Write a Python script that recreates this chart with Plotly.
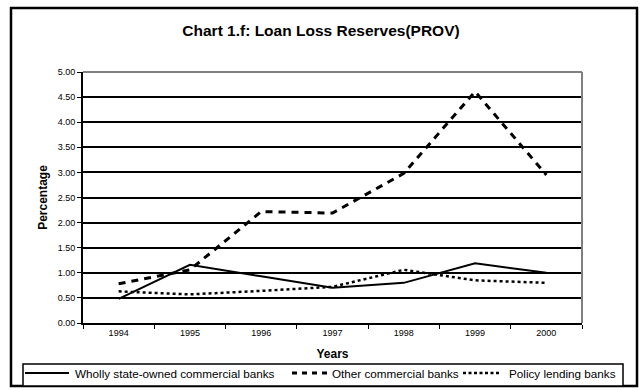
import plotly.graph_objects as go

years = ["1994", "1995", "1996", "1997", "1998", "1999", "2000"]
wholly_state = [0.48, 1.16, 0.93, 0.70, 0.80, 1.19, 1.00]
other_commercial = [0.78, 1.06, 2.22, 2.19, 2.98, 4.61, 2.95]
policy_lending = [0.63, 0.57, 0.64, 0.72, 1.06, 0.85, 0.80]
y_ticks = [0, 0.5, 1, 1.5, 2, 2.5, 3, 3.5, 4, 4.5, 5]
series_names = ["Wholly state-owned commercial banks", "Other commercial banks", "Policy lending banks"]

FONT = "Liberation Sans, Arial, sans-serif"

styles = [
    dict(color="black", width=2),
    dict(color="black", width=3, dash="7px,6px"),
    dict(color="black", width=2.5, dash="3px,3px"),
]

fig = go.Figure()
for name, vals, st in zip(series_names, [wholly_state, other_commercial, policy_lending], styles):
    fig.add_trace(go.Scatter(x=years, y=vals, mode="lines", name=name, line=st, showlegend=False))

W, H = 642, 390
L, R, T, B = 83, 60, 72, 67
PW, PH = W - L - R, H - T - B

def px(x):
    return (x - L) / PW

def py(y):
    return (H - B - y) / PH

shapes = [
    # outer frame
    dict(type="rect", xref="paper", yref="paper", x0=px(11), x1=px(637), y0=py(386), y1=py(8),
         line=dict(color="black", width=2.5), layer="below"),
    # plot border top and right (grey)
    dict(type="line", xref="paper", yref="paper", x0=0, x1=1, y0=1, y1=1,
         line=dict(color="#808080", width=2)),
    dict(type="line", xref="paper", yref="paper", x0=1, x1=1, y0=0, y1=1,
         line=dict(color="#808080", width=2)),
    # legend box
    dict(type="rect", xref="paper", yref="paper", x0=px(23), x1=px(623), y0=py(386), y1=py(364),
         line=dict(color="black", width=1.5), fillcolor="white"),
]

# legend samples and labels
leg_y = 373
samples = [(25, 69, 73), (292, 328, 330), (463, 501, 507)]
annotations = []
for (sx0, sx1, tx), name, st in zip(samples, series_names, styles):
    st2 = dict(st)
    if "dash" in st2:
        st2["dash"] = "5px,5px" if st2["width"] == 3 else "3px,2.5px"
    shapes.append(dict(type="line", xref="paper", yref="paper", x0=px(sx0), x1=px(sx1),
                       y0=py(leg_y), y1=py(leg_y), line=st2))
    annotations.append(dict(text=name, xref="paper", yref="paper", x=px(tx), y=py(leg_y),
                            xanchor="left", yanchor="middle", showarrow=False,
                            font=dict(size=11.7, family=FONT, color="black")))

fig.update_layout(
    width=W, height=H,
    margin=dict(l=L, r=R, t=T, b=B),
    paper_bgcolor="white", plot_bgcolor="white",
    font=dict(family=FONT, color="black"),
    title=dict(text="<b>Chart 1.f: Loan Loss Reserves(PROV)</b>", x=0.5, xref="container",
               xanchor="center", y=1 - 31 / H, yanchor="middle",
               font=dict(size=15.5, family=FONT, color="black")),
    xaxis=dict(type="category", range=[-0.5, 6.5], showgrid=False, showline=True,
               linecolor="black", linewidth=2, automargin=False,
               ticks="outside", tickson="boundaries", ticklen=4, tickcolor="black",
               tickfont=dict(size=9, family=FONT),
               title=dict(text="<b>Years</b>", font=dict(size=12, family=FONT), standoff=13)),
    yaxis=dict(range=[0, 5], tickvals=y_ticks, ticktext=[f"{v:.2f}" for v in y_ticks],
               showgrid=True, gridcolor="black", gridwidth=2, zeroline=False,
               showline=True, linecolor="black", linewidth=2, automargin=False,
               ticks="outside", ticklen=4, tickcolor="black",
               tickfont=dict(size=9, family=FONT),
               title=dict(text="<b>Percentage</b>", font=dict(size=12, family=FONT), standoff=7)),
    shapes=shapes,
    annotations=annotations,
)

fig.write_html("out.html")
